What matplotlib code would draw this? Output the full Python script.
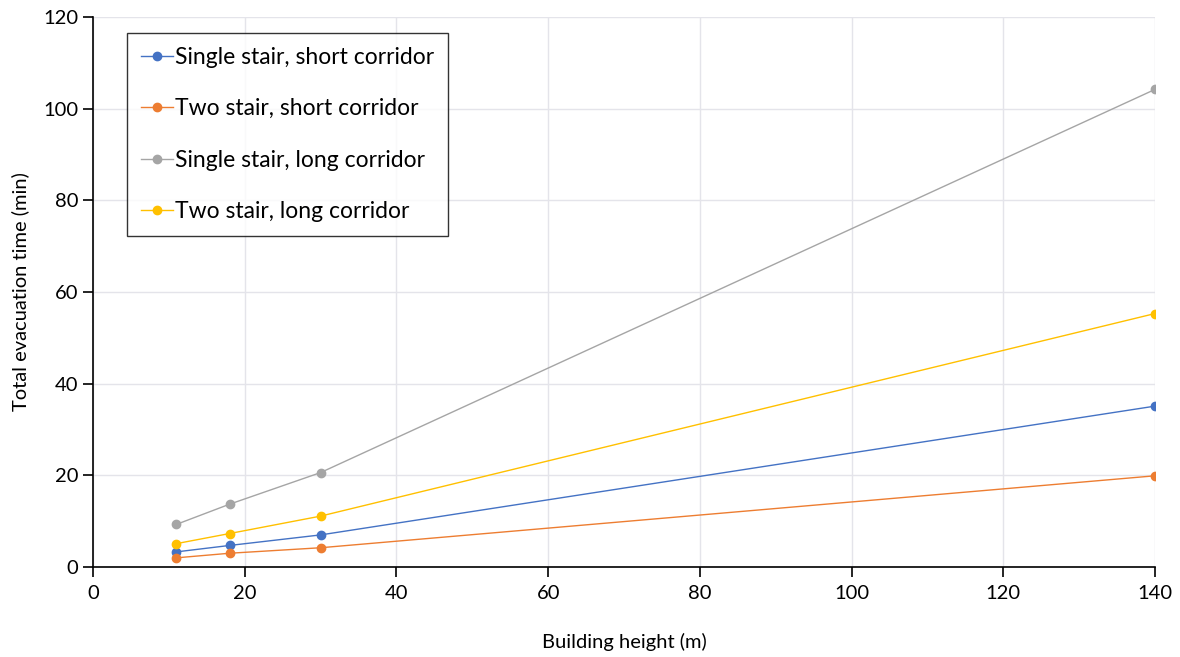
import matplotlib.pyplot as plt
from matplotlib.ticker import MultipleLocator

plt.rcParams['font.family'] = ['Lato', 'DejaVu Sans']

# --- data ---
heights = [11, 18, 30, 140]
single_short = [3.3, 4.7, 7.0, 35.1]
two_short = [2.0, 3.0, 4.2, 19.9]
single_long = [9.3, 13.7, 20.6, 104.2]
two_long = [5.1, 7.3, 11.1, 55.3]

series = [
    ("Single stair, short corridor", single_short, "#4472c4"),
    ("Two stair, short corridor", two_short, "#ed7d31"),
    ("Single stair, long corridor", single_long, "#a5a5a5"),
    ("Two stair, long corridor", two_long, "#ffc000"),
]

fig = plt.figure(figsize=(11.8, 6.57), dpi=100)
ax = fig.add_axes([93 / 1180, 1 - 567 / 657, (1155 - 93) / 1180, (567 - 17) / 657])

for label, vals, color in series:
    ax.plot(heights, vals, color=color, linewidth=1, marker='o', markersize=6, label=label)

ax.set_xlim(0, 140)
ax.set_ylim(0, 120)
ax.xaxis.set_major_locator(MultipleLocator(20))
ax.yaxis.set_major_locator(MultipleLocator(20))
ax.grid(True, color='#e4e4ea', linewidth=1)
ax.set_axisbelow(True)

for s in ['top', 'right']:
    ax.spines[s].set_visible(False)
for s in ['left', 'bottom']:
    ax.spines[s].set_color('black')
    ax.spines[s].set_linewidth(1.2)

ax.tick_params(axis='both', direction='out', length=7, width=1.2, labelsize=14.5, colors='black')
ax.tick_params(axis='x', pad=6)
ax.set_xlabel('Building height (m)', fontsize=14.5, labelpad=22)
ax.set_ylabel('Total evacuation time (min)', fontsize=14.5, labelpad=10)

leg = ax.legend(loc='upper left', bbox_to_anchor=(34 / 1062, 1 - 16 / 550), fontsize=16.5,
                frameon=True, fancybox=False, edgecolor='black', labelspacing=1.33,
                handlelength=1.4, handletextpad=0.1, borderpad=0.6, borderaxespad=0)
leg.get_frame().set_linewidth(1)

plt.savefig('out.png', dpi=100)
